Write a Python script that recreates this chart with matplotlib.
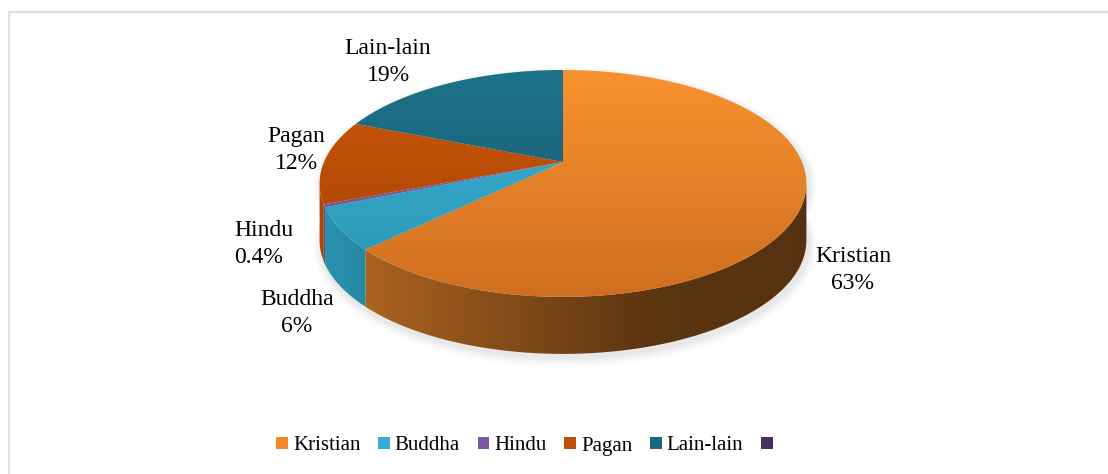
import numpy as np
import matplotlib.pyplot as plt
from matplotlib.patches import Polygon, Rectangle
from matplotlib.colors import to_rgb

# data
labels = ['Kristian', 'Buddha', 'Hindu', 'Pagan', 'Lain-lain']
values = [63, 6, 0.4, 12, 19]
pct_text = ['63%', '6%', '0.4%', '12%', '19%']
top_light = ['#F8922F', '#38B3D7', '#8463AD', '#CF5807', '#1E738B']
top_dark = ['#D06E20', '#2C93B2', '#6A4C90', '#A04004', '#165468']
side_col = ['#B86A22', '#2A93B0', '#6A4C90', '#A84A08', '#1A6278']
legend_col = ['#F28A2C', '#33AED2', '#7B59A6', '#C24F06', '#19677E', '#45305F']

plt.rcParams['font.family'] = ['Liberation Serif', 'DejaVu Serif']

W, H = 1108, 474
fig = plt.figure(figsize=(W / 100, H / 100), dpi=100)
ax = fig.add_axes([0, 0, 1, 1])

# pie geometry (pixels), simple perspective
cx, cy = 563, 162
R, A, b = 239, 109.4, 0.189
D = 57


def proj(t, drop=0.0):
    u, v = np.cos(t), np.sin(t)
    s = 1.0 / (1.0 + b * v)
    return cx + R * u * s, cy - A * v * s + drop


vals = np.array(values, dtype=float)
frac = vals / vals.sum()
cum = np.concatenate([[0], np.cumsum(frac)])
t_start = np.radians(90 - 360 * cum[:-1])
t_end = np.radians(90 - 360 * cum[1:])

ys, xs = np.mgrid[0:H, 0:W]


def grad_image(c1, c2, mode):
    c1, c2 = np.array(to_rgb(c1)), np.array(to_rgb(c2))
    if mode == 'v':
        f = np.clip((ys - 70) / (297 - 70), 0, 1)[..., None]
        return c1 * (1 - f) + c2 * f
    f = np.interp(xs, [318, 650, 806], [1.0, 0.5, 0.47])[..., None]
    return np.clip(c1 * f, 0, 1)


def fill_grad(pts, img):
    poly = Polygon(pts, closed=True, fc='none', ec='none')
    ax.add_patch(poly)
    im = ax.imshow(img, extent=(0, W, H, 0), origin='upper', aspect='auto',
                   interpolation='bilinear', zorder=2)
    im.set_clip_path(poly)


# soft shadow
tt = np.linspace(0, 2 * np.pi, 400)
for k, a in zip([8, 6, 4, 2], [0.03, 0.04, 0.05, 0.06]):
    sx, sy = proj(tt)
    sx2, sy2 = proj(tt, D)
    pts = np.column_stack([np.concatenate([sx, sx2]) + 2, np.concatenate([sy, sy2]) + 3])
    ax.fill(cx + (pts[:, 0] - cx) * (1 + k / 240), cy + 20 + (pts[:, 1] - cy - 20) * (1 + k / 140),
            color='gray', alpha=a, lw=0, zorder=1)

# sides (visible front part only)
lo_lim, hi_lim = np.radians(-169.1), np.radians(-10.9)
for i in range(len(values)):
    hi = min(t_start[i], hi_lim)
    lo = max(t_end[i], lo_lim)
    if hi <= lo:
        continue
    t = np.linspace(hi, lo, 120)
    x1, y1 = proj(t)
    x2, y2 = proj(t[::-1], D)
    pts = np.column_stack([np.concatenate([x1, x2]), np.concatenate([y1, y2])])
    fill_grad(pts, grad_image(side_col[i], side_col[i], 'h'))

# top faces
for i in range(len(values)):
    t = np.linspace(t_start[i], t_end[i], max(int(abs(t_start[i] - t_end[i]) * 80), 4))
    x1, y1 = proj(t)
    pts = np.column_stack([np.concatenate([[cx], x1]), np.concatenate([[cy], y1])])
    fill_grad(pts, grad_image(top_light[i], top_dark[i], 'v'))

# data labels
lab_pos = [(853, 270, 'center'), (297, 313, 'center'), (234, 244, 'left'),
           (296, 150, 'center'), (388, 62, 'center')]
for i, (x, y, ha) in enumerate(lab_pos):
    ax.text(x, y, labels[i] + '\n' + pct_text[i], ha=ha, va='center',
            fontsize=17, linespacing=1.4, color='black', zorder=5)

# legend
handles = [Rectangle((0, 0), 1, 1, fc=c, ec='none') for c in legend_col]
leg = ax.legend(handles, labels + [''], loc='center', bbox_to_anchor=(527 / W, 1 - 446 / H),
                ncol=6, frameon=False, fontsize=15, handlelength=0.55, handleheight=0.55,
                handletextpad=0.25, columnspacing=0.85, borderpad=0)

# chart frame
ax.plot([8.5, 8.5, W], [H, 11.5, 11.5], color='#D5E0F0', lw=1.5, zorder=0)

ax.set_xlim(0, W)
ax.set_ylim(H, 0)
ax.axis('off')
fig.savefig('out.png', dpi=100)
